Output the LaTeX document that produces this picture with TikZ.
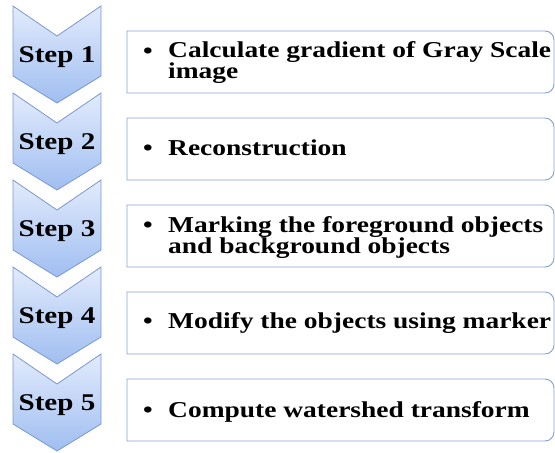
\documentclass[tikz,border=0pt]{standalone}
\usepackage{fontspec}
\setmainfont{Liberation Serif}
\newfontfamily\widefont[FakeStretch=1.21]{Liberation Serif}
\usepackage{tikz}

\definecolor{chevtop}{RGB}{226,235,252}
\definecolor{chevbot}{RGB}{160,190,241}
\definecolor{chevline}{RGB}{120,152,206}
\definecolor{boxline}{RGB}{130,162,212}

\begin{document}
\begin{tikzpicture}[
    x=1pt, y=-1pt,
    chev/.style    = {top color=chevtop, bottom color=chevbot, draw=chevline, line width=0.8pt},
    box/.style     = {draw=boxline, line width=0.9pt},
    steplbl/.style = {anchor=base, inner sep=0pt, font=\widefont\bfseries\fontsize{24}{24}\selectfont},
    item/.style    = {anchor=base west, inner sep=0pt, align=left, font=\widefont\bfseries\fontsize{22.7}{21}\selectfont}
  ]

    \useasboundingbox (0,0) rectangle (555,453);

    %% ---- Step 1 ----
    \path[chev] (13,6) -- (57,36) -- (101,6) -- (101,76) -- (57,103) -- (13,76) -- cycle;
    \node[steplbl] (s1) at (57,62) {Step 1};
    \draw[box] (300,31) [rounded corners=9pt] -- (554,31) -- (554,93) -- (300,93) [sharp corners] -- (127,93) -- (127,31) -- cycle;
    \node[item] (b1) at (143,58) {\textbullet};
    \node[item] (t1) at (168,78) {Calculate gradient of Gray Scale\\image}; % base = last line

    %% ---- Step 2, one row further down ----
    \begin{scope}[shift={(0,87)}]
      \path[chev] (13,6) -- (57,36) -- (101,6) -- (101,76) -- (57,103) -- (13,76) -- cycle;
      \node[steplbl] (s2) at (57,62) {Step 2};
      \draw[box] (300,31) [rounded corners=9pt] -- (554,31) -- (554,93) -- (300,93) [sharp corners] -- (127,93) -- (127,31) -- cycle;
      \node[item] (b2) at (143,68) {\textbullet};
      \node[item] (t2) at (168,68) {Reconstruction};
    \end{scope}

    %% ---- Step 3 ----
    \begin{scope}[shift={(0,174)}]
      \path[chev] (13,6) -- (57,36) -- (101,6) -- (101,76) -- (57,103) -- (13,76) -- cycle;
      \node[steplbl] (s3) at (57,62) {Step 3};
      \draw[box] (300,31) [rounded corners=9pt] -- (554,31) -- (554,93) -- (300,93) [sharp corners] -- (127,93) -- (127,31) -- cycle;
      \node[item] (b3) at (143,58) {\textbullet};
      \node[item] (t3) at (168,79) {Marking the foreground objects\\and background objects};
    \end{scope}

    %% ---- Step 4 ----
    \begin{scope}[shift={(0,261)}]
      \path[chev] (13,6) -- (57,36) -- (101,6) -- (101,76) -- (57,103) -- (13,76) -- cycle;
      \node[steplbl] (s4) at (57,62) {Step 4};
      \draw[box] (300,31) [rounded corners=9pt] -- (554,31) -- (554,93) -- (300,93) [sharp corners] -- (127,93) -- (127,31) -- cycle;
      \node[item] (b4) at (143,67) {\textbullet};
      \node[item] (t4) at (168,67) {Modify the objects using marker};
    \end{scope}

    %% ---- Step 5 ----
    \begin{scope}[shift={(0,348)}]
      \path[chev] (13,6) -- (57,36) -- (101,6) -- (101,76) -- (57,103) -- (13,76) -- cycle;
      \node[steplbl] (s5) at (57,62) {Step 5};
      \draw[box] (300,31) [rounded corners=9pt] -- (554,31) -- (554,93) -- (300,93) [sharp corners] -- (127,93) -- (127,31) -- cycle;
      \node[item] (b5) at (143,69) {\textbullet};
      \node[item] (t5) at (168,69) {Compute watershed transform};
    \end{scope}
  \end{tikzpicture}
\end{document}
